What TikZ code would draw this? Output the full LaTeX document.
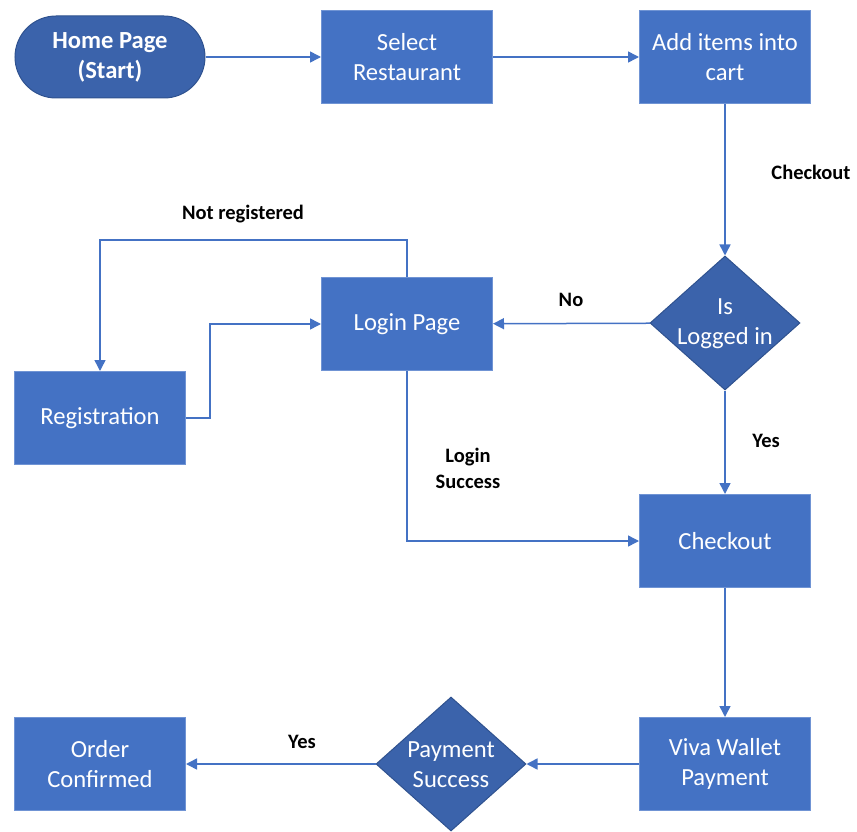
\documentclass[tikz,border=0pt]{standalone}
\usepackage{fontspec}
\setmainfont{Carlito}
\usetikzlibrary{shapes.geometric,arrows.meta}
\definecolor{boxblue}{HTML}{4472C4}
\definecolor{boxedge}{HTML}{7094D4}
\definecolor{deepblue}{HTML}{3B63AB}
\definecolor{deepedge}{HTML}{2F528F}
\tikzset{
  flowbox/.style={rectangle, fill=boxblue, draw=boxedge, line width=1pt, minimum width=171pt, minimum height=93pt, inner sep=0pt, text=white, align=center, font=\fontsize{24.6}{30}\selectfont},
  startbox/.style={rectangle, rounded corners=41pt, fill=deepblue, draw=deepedge, line width=1pt, minimum width=190pt, minimum height=82pt, text=white, align=center, font=\bfseries\fontsize{24.6}{30}\selectfont},
  decision/.style={diamond, fill=deepblue, draw=deepedge, line width=1pt, minimum width=150pt, minimum height=134pt, inner sep=0pt},
  dtext/.style={text=white, align=center, font=\fontsize{24.6}{30}\selectfont},
  flow/.style={draw=boxblue, line width=1.5pt, -{Triangle[length=11pt,width=11pt]}},
  tag/.style={text=black, align=center, font=\bfseries\fontsize{20.5}{26}\selectfont}
}
\begin{document}
\begin{tikzpicture}[x=1pt,y=-1pt]
      \useasboundingbox (0,0) rectangle (857,832);
      \node[startbox] (home) at (110,57) {Home Page\\(Start)};
      \node[flowbox] (select) at (407,57) {Select\\Restaurant};
      \node[flowbox] (cart) at (725,57) {Add items into\\cart};
      \node[decision, label={[dtext, yshift=-1pt]center:Is\\Logged in}] (logged) at (725,323) {};
      \node[flowbox] (login) at (407,324) {Login Page};
      \node[flowbox] (reg) at (100,418) {Registration};
      \node[flowbox] (checkout) at (725,541) {Checkout};
      \node[flowbox] (viva) at (725,764) {Viva Wallet\\Payment};
      \node[decision, label={[dtext, yshift=-1pt]center:Payment\\Success}] (paid) at (451,764) {};
      \node[flowbox] (done) at (100,764) {Order\\Confirmed};
      \node[tag] (tcheckout) at (811,172) {Checkout};
      \node[tag] (tno) at (571,300) {No};
      \node[tag] (tnotreg) at (243,214) {Not registered};
      \node[tag] (tlogin) at (468,468) {Login\\Success};
      \node[tag] (tyes) at (766,441) {Yes};
      \node[tag] (tpaid) at (302,742) {Yes};
      \draw[flow] (home) -- (select);
      \draw[flow] (select) -- (cart);
      \draw[flow] (cart) -- (logged);
      \draw[flow] (logged) -- (login);
      \draw[flow] (login.north) -- ++(0,-37) -| (reg.north);
      \draw[flow] (reg.east) -- ++(24,0) |- (login.west);
      \draw[flow] (login.south) |- (checkout.west);
      \draw[flow] (logged) -- (checkout);
      \draw[flow] (checkout) -- (viva);
      \draw[flow] (viva) -- (paid);
      \draw[flow] (paid) -- (done);
    \end{tikzpicture}
\end{document}
